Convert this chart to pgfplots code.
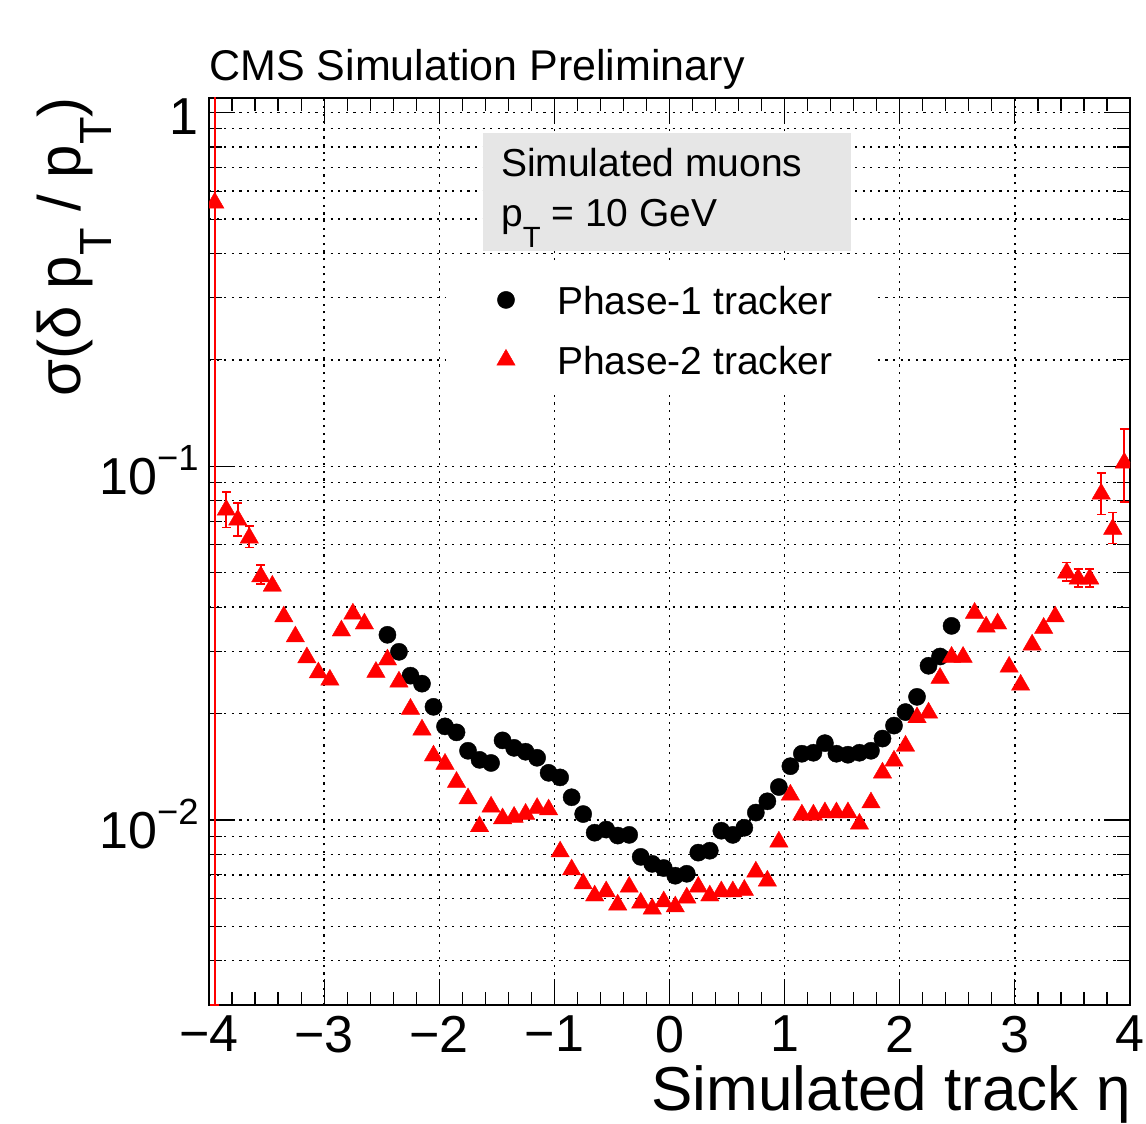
\documentclass[border=0pt]{standalone}
\usepackage{pgfplots}
\pgfplotsset{compat=1.18}
\usepackage{pgfplotstable}
\usepackage{fontspec}
\setmainfont{Liberation Sans}
\usepackage{graphicx}

% ROOT-like low subscripts and superscripts
\newcommand{\sub}[1]{\raisebox{-0.53em}{\scalebox{0.75}{#1}}}
\newcommand{\supr}[1]{\raisebox{0.45em}{\scalebox{0.7}{#1}}}

\definecolor{boxgrey}{RGB}{230,230,230}

% Phase-1 tracker
\pgfplotstableread{
x y
-2.45 0.0334
-2.35 0.0299
-2.25 0.0256
-2.15 0.0243
-2.05 0.0209
-1.95 0.0184
-1.85 0.0177
-1.75 0.0157
-1.65 0.0148
-1.55 0.0145
-1.45 0.0168
-1.35 0.0160
-1.25 0.0156
-1.15 0.0150
-1.05 0.0136
-0.95 0.0132
-0.85 0.0116
-0.75 0.0104
-0.65 0.00921
-0.55 0.0094
-0.45 0.00904
-0.35 0.00908
-0.25 0.00787
-0.15 0.00752
-0.05 0.00732
0.05 0.00696
0.15 0.00705
0.25 0.00809
0.35 0.00819
0.45 0.00933
0.55 0.00908
0.65 0.00951
0.75 0.0105
0.85 0.0113
0.95 0.0124
1.05 0.0142
1.15 0.0154
1.25 0.0155
1.35 0.0165
1.45 0.0154
1.55 0.0153
1.65 0.0155
1.75 0.0157
1.85 0.0170
1.95 0.0185
2.05 0.0202
2.15 0.0223
2.25 0.0273
2.35 0.0290
2.45 0.0354
}\phaseone

% Phase-2 tracker, with errors
\pgfplotstableread{
x y ep em
-3.95 0.556 1.5 0.553
-3.85 0.0753 0.0093 0.0081
-3.75 0.0706 0.0083 0.0070
-3.65 0.0628 0.0051 0.0039
-3.55 0.0488 0.0039 0.0023
-3.45 0.0459 0.0008 0.0008
-3.35 0.0376 0 0
-3.25 0.0330 0 0
-3.15 0.0288 0 0
-3.05 0.0261 0 0
-2.95 0.0249 0 0
-2.85 0.0343 0 0
-2.75 0.0383 0 0
-2.65 0.0359 0 0
-2.55 0.0262 0 0
-2.45 0.0284 0 0
-2.35 0.0246 0 0
-2.25 0.0206 0 0
-2.15 0.0180 0 0
-2.05 0.0152 0 0
-1.95 0.0144 0 0
-1.85 0.0128 0 0
-1.75 0.0115 0 0
-1.65 0.00959 0 0
-1.55 0.0109 0 0
-1.45 0.0101 0 0
-1.35 0.0102 0 0
-1.25 0.0104 0 0
-1.15 0.0108 0 0
-1.05 0.0107 0 0
-0.95 0.00814 0 0
-0.85 0.00724 0 0
-0.75 0.00661 0 0
-0.65 0.00611 0 0
-0.55 0.00628 0 0
-0.45 0.00576 0 0
-0.35 0.00647 0 0
-0.25 0.00583 0 0
-0.15 0.00561 0 0
-0.05 0.00588 0 0
0.05 0.00569 0 0
0.15 0.00603 0 0
0.25 0.00647 0 0
0.35 0.00611 0 0
0.45 0.00628 0 0
0.55 0.00628 0 0
0.65 0.00634 0 0
0.75 0.00714 0 0
0.85 0.00673 0 0
0.95 0.00868 0 0
1.05 0.01178 0 0
1.15 0.01035 0 0
1.25 0.01035 0 0
1.35 0.0105 0 0
1.45 0.0105 0 0
1.55 0.0105 0 0
1.65 0.00975 0 0
1.75 0.0112 0 0
1.85 0.0136 0 0
1.95 0.0147 0 0
2.05 0.0162 0 0
2.15 0.0195 0 0
2.25 0.0201 0 0
2.35 0.0252 0 0
2.45 0.0289 0 0
2.55 0.0289 0 0
2.65 0.0385 0 0
2.75 0.0352 0 0
2.85 0.0359 0 0
2.95 0.0271 0 0
3.05 0.0241 0 0
3.15 0.0313 0 0
3.25 0.0349 0 0
3.35 0.0376 0 0
3.45 0.0500 0.0035 0.0025
3.55 0.0481 0.0032 0.0025
3.65 0.0481 0.0032 0.0025
3.75 0.0836 0.0123 0.0105
3.85 0.0665 0.0075 0.0060
3.95 0.1023 0.025 0.023
}\phasetwo

\begin{document}
\begin{tikzpicture}
\useasboundingbox (0,0) rectangle (573pt,562pt);
\begin{axis}[
  at={(104.5pt,59.5pt)}, anchor=south west,
  scale only axis, width=460.5pt, height=453.5pt,
  xmin=-4, xmax=4,
  ymode=log, ymin=0.003, ymax=1.1,
  xtick={-4,-3,...,4},
  xticklabels={−4,−3,−2,−1,0,1,2,3,4},
  minor x tick num=4,
  ytick={0.01,0.1,1},
  yticklabels={10\supr{−2},10\supr{−1},1},
  minor ytick={0.003,0.004,0.005,0.006,0.007,0.008,0.009,0.02,0.03,0.04,0.05,0.06,0.07,0.08,0.09,0.2,0.3,0.4,0.5,0.6,0.7,0.8,0.9},
  xmajorgrids, ymajorgrids, yminorgrids,
  major grid style={black, line width=0.65pt, dash pattern=on 1.1pt off 2.7pt},
  minor grid style={black, line width=0.65pt, dash pattern=on 1.1pt off 2.7pt},
  major tick length=13pt, minor tick length=6.5pt,
  tick style={black, line width=0.6pt},
  axis line style={line width=1pt},
  xticklabel style={font=\fontsize{26}{30}\selectfont, yshift=-2pt},
  yticklabel style={font=\fontsize{26}{30}\selectfont, inner sep=0pt, xshift=-5pt, yshift=-2pt},
  clip marker paths=true,
  legend cell align=left,
  legend image code/.code={\draw[#1] plot coordinates {(0pt,0pt)};},
  legend style={at={(axis description cs:0.3214,0.7443)}, anchor=west, xshift=-4.3pt,
    draw=none, fill=none, inner sep=0pt, row sep=13pt,
    font=\fontsize{19.5}{23}\selectfont,
    nodes={inner sep=0pt, text height=16pt, text depth=1pt},
    /tikz/every odd column/.append style={column sep=21pt}},
]
% grey text box and white legend area, over the grid
\fill[boxgrey] (rel axis cs:0.2975,0.8313) rectangle (rel axis cs:0.6971,0.9614);
\fill[white] (rel axis cs:0.2573,0.6759) rectangle (rel axis cs:0.7231,0.8159);
\node[anchor=base west, font=\fontsize{19.5}{23}\selectfont, inner sep=0pt] at (rel axis cs:0.3167,0.9129) {Simulated muons};
\node[anchor=base west, font=\fontsize{19.5}{23}\selectfont, inner sep=0pt] at (rel axis cs:0.3167,0.8578) {p\sub{T} = 10 GeV};

\addplot[only marks, mark=*, mark size=4.3pt, black, mark options={line width=0.2pt}] table[x=x, y=y] {\phaseone};
\addlegendentry{Phase-1 tracker}
\addplot[only marks, mark=triangle*, mark size=5.3pt, red, mark options={line width=0.2pt},
  error bars/.cd, y dir=both, y explicit,
  error bar style={line width=0.8pt, red},
  error mark options={line width=0.8pt, mark size=2.25pt, red, rotate=90}]
  table[x=x, y=y, y error plus=ep, y error minus=em] {\phasetwo};
\addlegendentry{Phase-2 tracker}
\end{axis}
\node[anchor=base west, font=\fontsize{21.5}{25}\selectfont, inner sep=0pt] at (104.5pt,521.5pt) {CMS Simulation Preliminary};
\node[anchor=base east, font=\fontsize{31}{37}\selectfont, inner sep=0pt] at (565.5pt,6.8pt) {Simulated track η};
\node[rotate=90, anchor=base east, font=\fontsize{30}{36}\selectfont, inner sep=0pt] at (40pt,513.5pt) {σ(δ p\sub{T} / p\sub{T})};
\end{tikzpicture}
\end{document}
